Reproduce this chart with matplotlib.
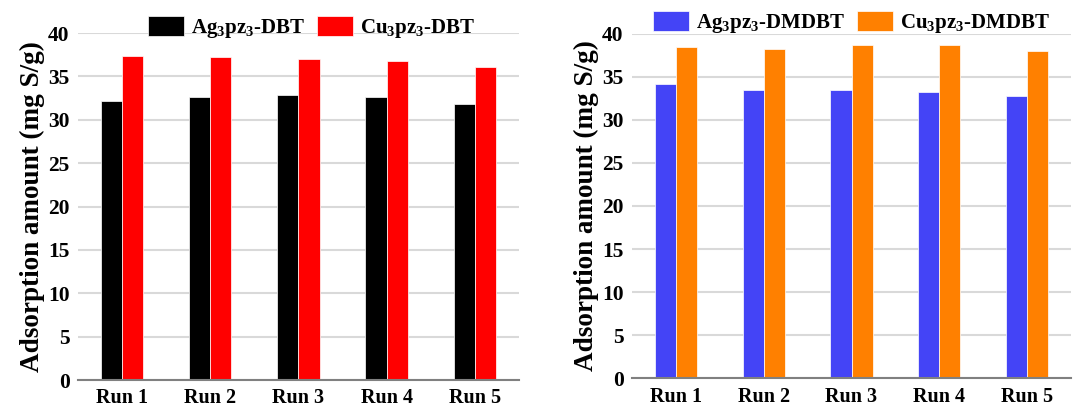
import numpy as np
import matplotlib
matplotlib.use("Agg")
import matplotlib.pyplot as plt

plt.rcParams.update({
    "font.family": "Liberation Serif",
    "font.weight": "bold",
    "axes.labelweight": "bold",
    "mathtext.fontset": "custom",
    "mathtext.rm": "Liberation Serif:bold",
    "mathtext.it": "Liberation Serif:bold",
    "mathtext.bf": "Liberation Serif:bold",
})

runs = ["Run 1", "Run 2", "Run 3", "Run 4", "Run 5"]
yticks = [0, 5, 10, 15, 20, 25, 30, 35, 40]

# DBT panel
ag_dbt = [32.2, 32.6, 32.8, 32.6, 31.8]
cu_dbt = [37.4, 37.2, 37.0, 36.8, 36.1]

# DMDBT panel
ag_dmdbt = [34.2, 33.4, 33.4, 33.2, 32.8]
cu_dmdbt = [38.4, 38.2, 38.7, 38.7, 38.0]


def draw_panel(ax, a, b, labels, colors, leg_xy):
    x = np.arange(len(runs))
    w = 0.24
    ax.bar(x - w / 2, a, w, color=colors[0], edgecolor="white", linewidth=0.5,
           label=labels[0], zorder=3)
    ax.bar(x + w / 2, b, w, color=colors[1], edgecolor="white", linewidth=0.5,
           label=labels[1], zorder=3)
    ax.set_xlim(-0.5, len(runs) - 0.5)
    ax.set_ylim(0, 40)
    ax.set_yticks(yticks)
    ax.set_xticks(x)
    ax.set_xticklabels(runs)
    ax.grid(axis="y", color="#d9d9d9", lw=1.5, zorder=0)
    for s in ["top", "right", "left"]:
        ax.spines[s].set_visible(False)
    ax.spines["bottom"].set_color("#808080")
    ax.spines["bottom"].set_linewidth(1.5)
    ax.spines["bottom"].set_zorder(4)
    ax.tick_params(axis="x", length=0, labelsize=14.5, pad=6)
    ax.tick_params(axis="y", length=0, labelsize=15.5, pad=6)
    ax.set_ylabel("Adsorption amount (mg S/g)", fontsize=19.5, labelpad=2)
    ax.legend(loc="center", bbox_to_anchor=leg_xy, ncol=2, frameon=False,
              prop={"size": 15, "weight": "bold"}, handlelength=1.7,
              handleheight=1.1, columnspacing=0.6, handletextpad=0.35)


fig = plt.figure(figsize=(10.86, 4.07), dpi=100)
ax1 = fig.add_axes([0.0718, 0.0663, 0.406, 0.8526])
ax2 = fig.add_axes([0.582, 0.0705, 0.4042, 0.847])

draw_panel(ax1, ag_dbt, cu_dbt,
           ["Ag$_3$pz$_3$-DBT", "Cu$_3$pz$_3$-DBT"], ["#000000", "#ff0000"],
           (0.53, 1.015))
draw_panel(ax2, ag_dmdbt, cu_dmdbt,
           ["Ag$_3$pz$_3$-DMDBT", "Cu$_3$pz$_3$-DMDBT"], ["#4444f6", "#ff8000"],
           (0.5, 1.03))

fig.savefig("out.png", dpi=100)
